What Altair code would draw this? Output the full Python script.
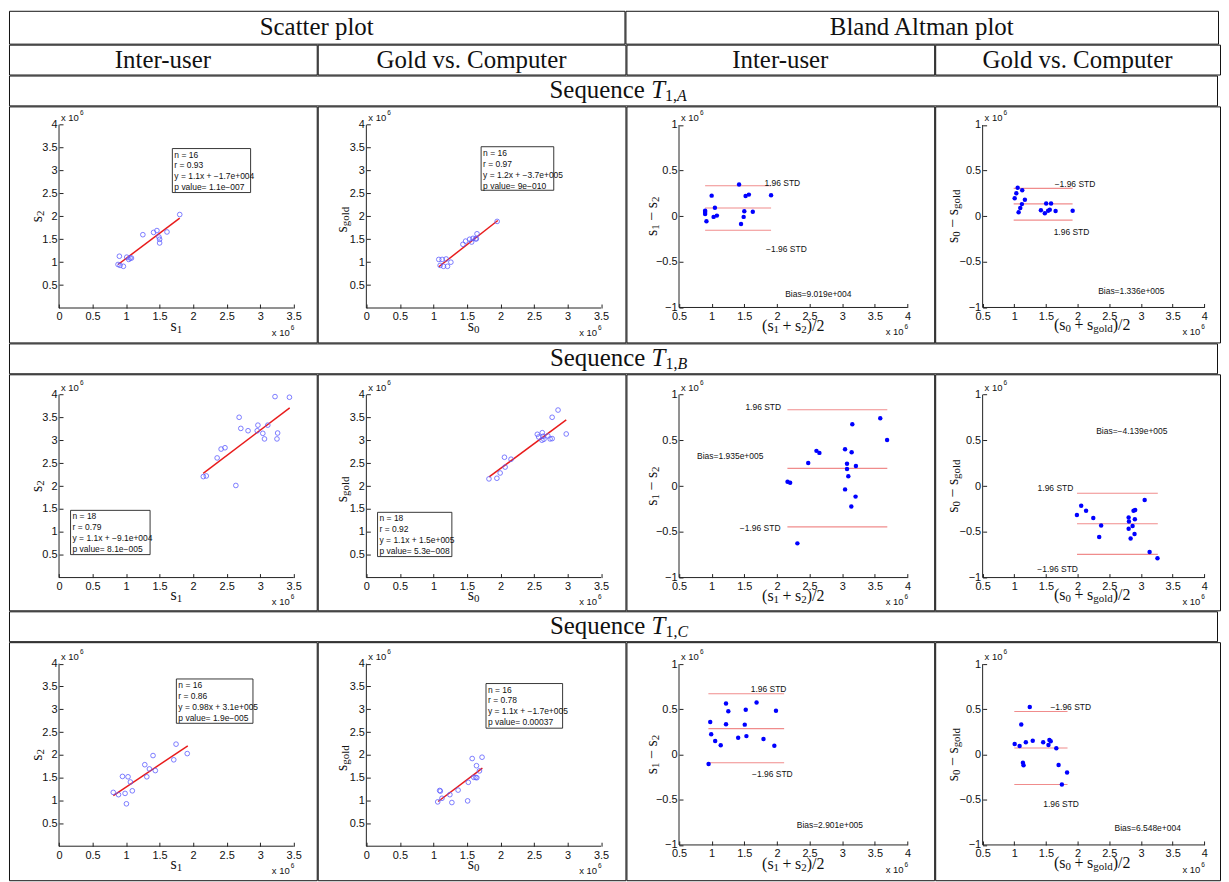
import altair as alt
import pandas as pd

SANS = "Liberation Sans"
SERIF = "Liberation Serif"
INK = "#111111"
TICK = 4

# ---------------- table layout ----------------
COL_W = [309, 309, 309, 286]
PANEL_H = [237, 237, 239]
HEAD1_H, HEAD2_H, SEQ_H = 33, 30, 30
TOTAL_W = sum(COL_W)
GAP = -1

# ---------------- data (all values in units of 10^6) ----------------
# Sequence T1,A
a1_s1 = [0.90, 0.88, 0.91, 0.96, 1.01, 1.04, 1.06, 1.08, 1.25, 1.41, 1.46, 1.49, 1.50, 1.50, 1.61, 1.80]
a1_s2 = [1.13, 0.95, 0.93, 0.91, 1.11, 1.06, 1.09, 1.09, 1.60, 1.65, 1.69, 1.55, 1.50, 1.42, 1.66, 2.04]
a1_fit_x = [0.88, 1.80]
a1_fit_y = [0.95, 1.96]
a1_stats = ["n = 16", "r = 0.93", "y = 1.1x + \u22121.7e+004", "p value= 1.1e\u2212007"]

a2_s0 = [1.08, 1.13, 1.10, 1.15, 1.21, 1.19, 1.26, 1.44, 1.48, 1.54, 1.57, 1.59, 1.63, 1.65, 1.64, 1.95]
a2_sg = [1.06, 1.06, 0.93, 0.91, 0.91, 1.07, 1.00, 1.39, 1.46, 1.50, 1.44, 1.52, 1.51, 1.62, 1.51, 1.89]
a2_fit_x = [1.08, 1.96]
a2_fit_y = [0.90, 1.91]
a2_stats = ["n = 16", "r = 0.97", "y = 1.2x + \u22123.7e+005", "p value= 9e\u2212010"]

a3_mean = [0.90, 0.90, 0.90, 0.92, 1.00, 1.03, 1.05, 1.08, 1.42, 1.45, 1.49, 1.50, 1.52, 1.57, 1.63, 1.91]
a3_diff = [0.061, 0.047, 0.025, -0.054, 0.226, -0.007, 0.093, 0.007, 0.348, -0.086, -0.007, 0.054, 0.223, 0.237, 0.050, 0.230]
a3_limits = [0.334, 0.090, -0.154]
a3_span = [0.90, 1.91]
a3_bias = "Bias=9.019e+004"

a4_mean = [1.006, 1.032, 1.053, 1.125, 1.167, 1.120, 1.094, 1.068, 1.420, 1.482, 1.503, 1.534, 1.560, 1.580, 1.652, 1.921]
a4_diff = [0.198, 0.251, 0.313, 0.284, 0.180, 0.133, 0.090, 0.043, 0.065, 0.032, 0.140, 0.061, 0.072, 0.140, 0.057, 0.061]
a4_limits = [0.305, 0.136, -0.043]
a4_span = [0.99, 1.92]
a4_bias = "Bias=1.336e+005"

# Sequence T1,B
b1_s1 = [2.152, 2.196, 2.358, 2.417, 2.475, 2.637, 2.686, 2.711, 2.819, 2.966, 2.956, 3.039, 3.064, 3.113, 3.221, 3.260, 3.250, 3.436]
b1_s2 = [2.208, 2.222, 2.616, 2.810, 2.839, 2.014, 3.505, 3.262, 3.211, 3.333, 3.211, 3.154, 3.032, 3.333, 3.957, 3.161, 3.032, 3.943]
b1_fit_x = [2.15, 3.44]
b1_fit_y = [2.28, 3.71]
b1_stats = ["n = 18", "r = 0.79", "y = 1.1x + \u22129.1e+004", "p value= 8.1e\u2212005"]

b2_s0 = [1.828, 1.946, 1.995, 2.059, 2.069, 2.157, 2.549, 2.569, 2.623, 2.637, 2.647, 2.618, 2.706, 2.740, 2.770, 2.770, 2.858, 2.980]
b2_sg = [2.158, 2.172, 2.287, 2.631, 2.416, 2.588, 3.133, 3.075, 3.168, 3.090, 3.025, 3.004, 3.097, 3.032, 3.039, 3.505, 3.663, 3.140]
b2_fit_x = [1.83, 2.98]
b2_fit_y = [2.20, 3.45]
b2_stats = ["n = 18", "r = 0.92", "y = 1.1x + 1.5e+005", "p value= 5.3e\u2212008"]

b3_mean = [2.162, 2.202, 2.313, 2.479, 2.605, 2.650, 3.043, 3.043, 3.073, 3.073, 3.093, 3.154, 3.144, 3.139, 3.209, 3.204, 3.582, 3.687]
b3_diff = [0.047, 0.036, -0.626, 0.252, 0.385, 0.363, 0.403, -0.036, 0.245, 0.187, 0.108, 0.676, 0.370, -0.223, 0.219, -0.115, 0.741, 0.504]
b3_limits = [0.835, 0.194, -0.446]
b3_span = [2.16, 3.69]
b3_bias = "Bias=1.935e+005"

b4_mean = [1.988, 2.056, 2.133, 2.247, 2.371, 2.340, 2.805, 2.810, 2.805, 2.867, 2.836, 2.882, 2.908, 2.903, 2.898, 3.058, 3.136, 3.260]
b4_diff = [-0.315, -0.215, -0.269, -0.348, -0.430, -0.556, -0.344, -0.387, -0.466, -0.437, -0.573, -0.269, -0.262, -0.362, -0.523, -0.151, -0.720, -0.789]
b4_limits = [-0.079, -0.412, -0.746]
b4_span = [1.99, 3.265]
b4_bias = "Bias=\u22124.139e+005"

# Sequence T1,C
c1_s1 = [0.809, 0.887, 0.946, 0.985, 1.005, 1.029, 1.064, 1.093, 1.279, 1.309, 1.348, 1.402, 1.436, 1.711, 1.745, 1.912]
c1_s2 = [1.179, 1.129, 1.529, 1.157, 0.929, 1.521, 1.407, 1.214, 1.786, 1.521, 1.693, 1.986, 1.657, 1.893, 2.236, 2.029]
c1_fit_x = [0.81, 1.92]
c1_fit_y = [1.11, 2.20]
c1_stats = ["n = 16", "r = 0.86", "y = 0.98x + 3.1e+005", "p value= 1.9e\u2212005"]

c2_s0 = [1.064, 1.093, 1.103, 1.127, 1.245, 1.275, 1.368, 1.510, 1.520, 1.578, 1.603, 1.632, 1.642, 1.647, 1.686, 1.725]
c2_sg = [0.971, 1.221, 1.207, 1.050, 1.129, 0.957, 1.229, 0.993, 1.400, 1.921, 1.507, 1.507, 1.764, 1.500, 1.650, 1.950]
c2_fit_x = [1.07, 1.73]
c2_fit_y = [0.98, 1.71]
c2_stats = ["n = 16", "r = 0.78", "y = 1.1x + \u22121.7e+005", "p value= 0.00037"]

c3_mean = [0.953, 0.978, 0.993, 1.054, 1.139, 1.220, 1.220, 1.255, 1.406, 1.507, 1.522, 1.532, 1.688, 1.794, 1.960, 1.985]
c3_diff = [-0.105, 0.360, 0.225, 0.149, 0.102, 0.564, 0.335, 0.480, 0.185, 0.331, 0.495, 0.204, 0.575, 0.171, 0.098, 0.484]
c3_limits = [0.673, 0.287, -0.091]
c3_span = [0.95, 2.11]
c3_bias = "Bias=2.901e+005"

c4_mean = [1.006, 1.084, 1.110, 1.182, 1.244, 1.136, 1.146, 1.291, 1.456, 1.539, 1.554, 1.575, 1.663, 1.699, 1.751, 1.833]
c4_diff = [0.116, 0.094, 0.332, 0.137, 0.527, -0.090, -0.119, 0.152, 0.137, 0.105, 0.162, 0.148, 0.069, -0.116, -0.332, -0.199]
c4_limits = [0.477, 0.072, -0.332]
c4_span = [1.00, 1.84]
c4_bias = "Bias=6.548e+004"

# ---------------- axes / framing ----------------
X_DOMAINS = [(-0.746, 3.843), (-0.725, 3.863), (-0.305, 4.408), (-0.249, 4.247)]
Y_DOMAINS_SC = [(-0.751, 4.40), (-0.716, 4.445), (-0.745, 4.47)]
Y_DOMAINS_BA = [(-1.383, 1.204), (-1.358, 1.222), (-1.39, 1.243)]

SC_XT = [0, 0.5, 1, 1.5, 2, 2.5, 3, 3.5]
SC_YT = [0.5, 1, 1.5, 2, 2.5, 3, 3.5, 4]
BA_XT = [0.5, 1, 1.5, 2, 2.5, 3, 3.5, 4]
BA_YT = [-1, -0.5, 0, 0.5, 1]

EM = {'(': .333, ')': .333, '/': .278, '+': .564, '\u2212': .564, ' ': .25, 's': .389,
      'g': .5, 'o': .5, 'l': .278, 'd': .5, ',': .25, 'A': .722, 'B': .667, 'C': .667,
      'S': .556, 'e': .444, 'q': .5, 'u': .5, 'n': .5, 'c': .444, 'T': .556}


def text_w(s, size):
    return sum(EM.get(c, 0.5) for c in s) * size


# annotation layout per panel
STATS_BOX = {
    (0, 0): (1.69, 2.857, 2.52, 3.48), (0, 1): (1.711, 2.794, 2.57, 3.52),
    (1, 0): (0.172, 1.358, 0.502, 1.47), (1, 1): (0.167, 1.275, 0.459, 1.427),
    (2, 0): (1.75, 2.892, 2.693, 3.664), (2, 1): (1.784, 2.926, 2.586, 3.564),
}
NOTES = {
    (0, 2): [("1.96 STD", 1.809, 0.359), ("\u22121.96 STD", 1.834, -0.359), (None, 2.126, -0.855)],
    (0, 3): [("\u22121.96 STD", 1.637, 0.352), ("1.96 STD", 1.621, -0.172), (None, 2.324, -0.815)],
    (1, 2): [("1.96 STD", 1.517, 0.863), ("\u22121.96 STD", 1.432, -0.457), (None, 0.777, 0.324)],
    (1, 3): [("1.96 STD", 1.368, -0.018), ("\u22121.96 STD", 1.363, -0.903), (None, 2.293, 0.602)],
    (2, 2): [("1.96 STD", 1.598, 0.72), ("\u22121.96 STD", 1.618, -0.215), (None, 2.303, -0.782)],
    (2, 3): [("\u22121.96 STD", 1.57, 0.523), ("1.96 STD", 1.456, -0.542), (None, 2.583, -0.812)],
}
SP = (0.22, 'gap')   # math spacing around binary operators (em)
TITLES = {
    0: dict(x=[("s", 'n'), ("1", 's')], xc=1.75, xdy=18, y=[("s", 'n'), ("2", 's')], yc=2.0, ydy=-22),
    1: dict(x=[("s", 'n'), ("0", 's')], xc=1.6, xdy=18, y=[("s", 'n'), ("gold", 's')], yc=1.93, ydy=-24),
    2: dict(x=[("(s", 'n'), ("1", 's'), SP, ("+", 'n'), SP, ("s", 'n'), ("2", 's'), (")/2", 'n')],
            xc=2.25, xdy=19,
            y=[("s", 'n'), ("1", 's'), SP, ("\u2212", 'n'), SP, ("s", 'n'), ("2", 's')], yc=0.0, ydy=-27),
    3: dict(x=[("(s", 'n'), ("0", 's'), SP, ("+", 'n'), SP, ("s", 'n'), ("gold", 's'), (")/2", 'n')],
            xc=2.23, xdy=18,
            y=[("s", 'n'), ("0", 's'), SP, ("\u2212", 'n'), SP, ("s", 'n'), ("gold", 's')], yc=0.0, ydy=-30),
}


def rich_layers(pieces, x, y, ex, ey, angle, dy0, size=16, subsize=11):
    widths = []
    for t, k in pieces:
        if k == 'gap':
            widths.append(t * size)
        else:
            widths.append(text_w(t, size if k == 'n' else subsize))
    pos = -sum(widths) / 2
    df = pd.DataFrame({'x': [x], 'y': [y]})
    out = []
    for (t, k), wd in zip(pieces, widths):
        if k != 'gap':
            sub = (k == 's')
            out.append(
                alt.Chart(df).mark_text(
                    text=t, font=SERIF, fontSize=subsize if sub else size, align='left',
                    baseline='middle', angle=angle, dx=pos, dy=dy0 + (4 if sub else 0), color=INK
                ).encode(x=ex('x'), y=ey('y'))
            )
        pos += wd
    return out


def panel(row, col, px, py, fit_x=None, fit_y=None, stats=None, limits=None, span=None, bias=None):
    kind = 'sc' if col < 2 else 'ba'
    w, h = COL_W[col], PANEL_H[row]
    xd = X_DOMAINS[col]
    yd = (Y_DOMAINS_SC if kind == 'sc' else Y_DOMAINS_BA)[row]
    xt, yt = (SC_XT, SC_YT) if kind == 'sc' else (BA_XT, BA_YT)
    x0, x1 = xt[0], xt[-1]
    y0, y1 = (0, yt[-1]) if kind == 'sc' else (yt[0], yt[-1])
    xs = alt.Scale(domain=list(xd), nice=False, zero=False)
    ys = alt.Scale(domain=list(yd), nice=False, zero=False)
    bottom_px = h * (y0 - yd[0]) / (yd[1] - yd[0])
    left_px = w * (x0 - xd[0]) / (xd[1] - xd[0])
    common = dict(format='~g', tickSize=TICK, domain=False, grid=False, labelFont=SANS,
                  labelFontSize=11, labelColor=INK, tickColor='#222', labelFlush=False,
                  labelOverlap=False, labelBound=False, title=None)
    xaxis = alt.Axis(values=xt, offset=-(bottom_px + TICK), labelPadding=3, **common)
    yaxis = alt.Axis(values=yt, offset=-(left_px + TICK), labelPadding=2, **common)

    def ex(f):
        return alt.X(f, type='quantitative', scale=xs, axis=xaxis)

    def ey(f):
        return alt.Y(f, type='quantitative', scale=ys, axis=yaxis)

    layers = []
    frame = pd.DataFrame({'x': [x0, x0], 'x2': [x1, x0], 'y': [y0, y0], 'y2': [y0, y1]})
    layers.append(alt.Chart(frame).mark_rule(color='#222', strokeWidth=1).encode(
        x=ex('x'), x2='x2', y=ey('y'), y2='y2'))

    if kind == 'ba':
        ldf = pd.DataFrame({'x': [span[0]] * 3, 'x2': [span[1]] * 3, 'y': limits})
        layers.append(alt.Chart(ldf).mark_rule(color='#f08c8c', strokeWidth=1.1).encode(
            x=ex('x'), x2='x2', y=ey('y')))
        pdf = pd.DataFrame({'x': px, 'y': py})
        layers.append(alt.Chart(pdf).mark_circle(size=20, color='#0000ff', opacity=1).encode(
            x=ex('x'), y=ey('y')))
        notes = NOTES[(row, col)]
        ndf = pd.DataFrame({'x': [n[1] for n in notes], 'y': [n[2] for n in notes],
                            't': [n[0] if n[0] else bias for n in notes]})
        layers.append(alt.Chart(ndf).mark_text(font=SANS, fontSize=8.5, align='left',
                                               baseline='middle', color=INK).encode(
            x=ex('x'), y=ey('y'), text='t:N'))
    else:
        fdf = pd.DataFrame({'x': fit_x, 'y': fit_y})
        layers.append(alt.Chart(fdf).mark_line(color='#e81c1c', strokeWidth=1.5).encode(
            x=ex('x'), y=ey('y')))
        pdf = pd.DataFrame({'x': px, 'y': py})
        layers.append(alt.Chart(pdf).mark_point(shape='circle', filled=False, size=22,
                                                color='#5d5dff', strokeWidth=0.8, opacity=1).encode(
            x=ex('x'), y=ey('y')))
        bx = STATS_BOX[(row, col)]
        bdf = pd.DataFrame({'x': [bx[0]], 'x2': [bx[1]], 'y': [bx[2]], 'y2': [bx[3]]})
        layers.append(alt.Chart(bdf).mark_rect(fill='white', stroke='#222', strokeWidth=0.9).encode(
            x=ex('x'), x2='x2', y=ey('y'), y2='y2'))
        tdf = pd.DataFrame({'x': [bx[0]], 'y': [bx[3]]})
        layers.append(alt.Chart(tdf).mark_text(text=stats, font=SANS, fontSize=8.5, lineHeight=11,
                                               align='left', baseline='top', dx=2, dy=2,
                                               color=INK).encode(x=ex('x'), y=ey('y')))

    # "x 10^6" exponent labels
    tdf = pd.DataFrame({'x': [x0], 'y': [y1]})
    bdf = pd.DataFrame({'x': [x1], 'y': [y0]})
    layers.append(alt.Chart(tdf).mark_text(text="x 10", font=SANS, fontSize=9.5, align='left',
                                           baseline='middle', dx=2, dy=-7, color=INK).encode(
        x=ex('x'), y=ey('y')))
    layers.append(alt.Chart(tdf).mark_text(text="6", font=SANS, fontSize=6.5, align='left',
                                           baseline='middle', dx=21, dy=-12, color=INK).encode(
        x=ex('x'), y=ey('y')))
    layers.append(alt.Chart(bdf).mark_text(text="x 10", font=SANS, fontSize=9.5, align='left',
                                           baseline='middle', dx=-22, dy=25, color=INK).encode(
        x=ex('x'), y=ey('y')))
    layers.append(alt.Chart(bdf).mark_text(text="6", font=SANS, fontSize=6.5, align='left',
                                           baseline='middle', dx=-3, dy=20, color=INK).encode(
        x=ex('x'), y=ey('y')))

    # axis titles
    t = TITLES[col]
    layers += rich_layers(t['x'], t['xc'], y0, ex, ey, 0, t['xdy'])
    layers += rich_layers(t['y'], x0, t['yc'], ex, ey, 270, t['ydy'])

    return alt.layer(*layers).properties(width=w, height=h)


def header(label, w, h, size=25):
    return alt.Chart(pd.DataFrame({'a': [0]})).mark_text(
        text=label, font=SERIF, fontSize=size, align='center', baseline='middle', color=INK
    ).encode(x=alt.value(w / 2), y=alt.value(h / 2)).properties(width=w, height=h)


def seq_header(letter, w=TOTAL_W, h=SEQ_H, size=25, subsize=16):
    pieces = [("Sequence", 'n', size), (0.25, 'gap', size), ("T", 'i', size),
              ("1,", 's', subsize), (letter, 'si', subsize)]
    widths = [p[0] * p[2] if p[1] == 'gap' else text_w(p[0], p[2]) for p in pieces]
    pos = w / 2 - sum(widths) / 2 + 6
    df = pd.DataFrame({'a': [0]})
    layers = []
    for (txt, k, fs), wd in zip(pieces, widths):
        if k != 'gap':
            italic = k in ('i', 'si')
            sub = k in ('s', 'si')
            layers.append(alt.Chart(df).mark_text(
                text=txt, font=SERIF, fontSize=fs, align='left', baseline='middle', color=INK,
                fontStyle='italic' if italic else 'normal'
            ).encode(x=alt.value(pos), y=alt.value(h / 2 + (6 if sub else 0))))
        pos += wd
    return alt.layer(*layers).properties(width=w, height=h)


def hrow(charts):
    return alt.hconcat(*charts, spacing=GAP)


row_head1 = hrow([header("Scatter plot", COL_W[0] + COL_W[1], HEAD1_H),
                  header("Bland Altman plot", COL_W[2] + COL_W[3], HEAD1_H)])
row_head2 = hrow([header(lbl, COL_W[i], HEAD2_H) for i, lbl in
                  enumerate(["Inter-user", "Gold vs. Computer", "Inter-user", "Gold vs. Computer"])])

row_a = hrow([
    panel(0, 0, a1_s1, a1_s2, a1_fit_x, a1_fit_y, a1_stats),
    panel(0, 1, a2_s0, a2_sg, a2_fit_x, a2_fit_y, a2_stats),
    panel(0, 2, a3_mean, a3_diff, limits=a3_limits, span=a3_span, bias=a3_bias),
    panel(0, 3, a4_mean, a4_diff, limits=a4_limits, span=a4_span, bias=a4_bias),
])
row_b = hrow([
    panel(1, 0, b1_s1, b1_s2, b1_fit_x, b1_fit_y, b1_stats),
    panel(1, 1, b2_s0, b2_sg, b2_fit_x, b2_fit_y, b2_stats),
    panel(1, 2, b3_mean, b3_diff, limits=b3_limits, span=b3_span, bias=b3_bias),
    panel(1, 3, b4_mean, b4_diff, limits=b4_limits, span=b4_span, bias=b4_bias),
])
row_c = hrow([
    panel(2, 0, c1_s1, c1_s2, c1_fit_x, c1_fit_y, c1_stats),
    panel(2, 1, c2_s0, c2_sg, c2_fit_x, c2_fit_y, c2_stats),
    panel(2, 2, c3_mean, c3_diff, limits=c3_limits, span=c3_span, bias=c3_bias),
    panel(2, 3, c4_mean, c4_diff, limits=c4_limits, span=c4_span, bias=c4_bias),
])

chart = alt.vconcat(
    row_head1, row_head2, seq_header("A"), row_a, seq_header("B"), row_b, seq_header("C"), row_c,
    spacing=GAP
).properties(padding=0).configure_view(stroke='#111', strokeWidth=1)

chart.save("out.html", embed_options={"renderer": "svg", "actions": False})
